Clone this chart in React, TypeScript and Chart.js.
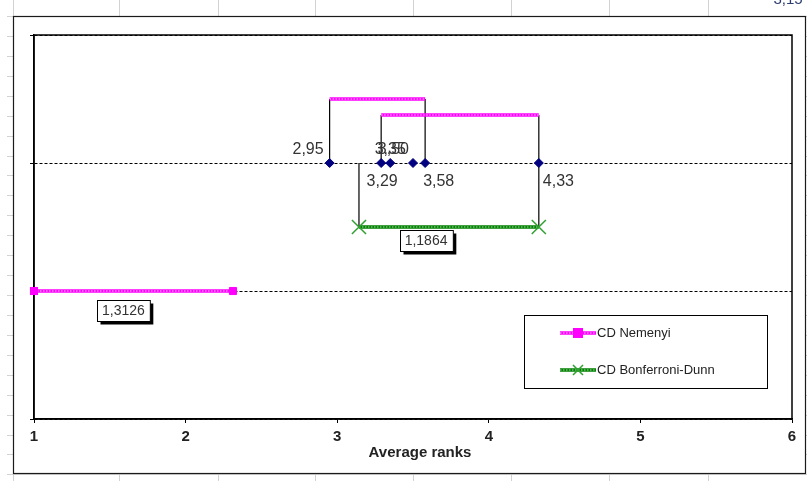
import React, { useEffect, useRef } from 'react';
import { Chart, registerables } from 'chart.js';

Chart.register(...registerables);

// ---------- data ----------
const rankValues = [2.95, 3.29, 3.35, 3.5, 3.58, 4.33];
const rankLevel = 2;
const nemenyiCD = 1.3126;
const bonferroniCD = 1.1864;
const nemenyiGroupStarts = [2.95, 3.29];
const nemenyiGroupEnds = [3.58, 4.33];
const nemenyiGroupLevels = [2.5, 2.375];
const nemenyiBarLevel = 1;
const bonferroniBarLevel = 1.5;
const bonferroniEnd = 4.33;
const xTickValues = [1, 2, 3, 4, 5, 6];
const yMin = 0;
const yMax = 3;
const cdLabelTexts = ['1,3126', '1,1864'];
const cdLabelX = [1.59, 3.586];
const cdLabelY = [nemenyiBarLevel, bonferroniBarLevel];
const legendLabels = ['CD Nemenyi', 'CD Bonferroni-Dunn'];
const axisTitle = 'Average ranks';
const strayLabel = '3,15';

// ---------- placement / style ----------
const rankLabelPlacement = [
  { dx: -6, dy: -13.5, align: 'right' },
  { dx: 1, dy: 18.5, align: 'center' },
  { dx: 0, dy: -13.5, align: 'center' },
  { dx: -4, dy: -13.5, align: 'right' },
  { dx: -2, dy: 18.5, align: 'left' },
  { dx: 4, dy: 18.5, align: 'left' },
];
const cdLabelDy = [19.5, 13.5];

const MAGENTA = '#ff00ff';
const MAGENTA_DOT = '#ffc4ff';
const GREEN = '#008000';
const GREEN_DOT = '#a8dca8';
const NAVY = '#000080';
const FONT = "'Liberation Sans', Arial, sans-serif";

const fmt = (v: number, d: number) => v.toFixed(d).replace('.', ',');

export default function App() {
  const ref = useRef<HTMLCanvasElement | null>(null);

  useEffect(() => {
    const canvas = ref.current;
    if (!canvas) return;

    const nemenyiBar = [
      { x: xTickValues[0], y: nemenyiBarLevel },
      { x: xTickValues[0] + nemenyiCD, y: nemenyiBarLevel },
    ];
    const bonferroniStart = bonferroniEnd - bonferroniCD;
    const bonferroniBar = [
      { x: bonferroniStart, y: bonferroniBarLevel },
      { x: bonferroniEnd, y: bonferroniBarLevel },
    ];
    const groupSegs = nemenyiGroupStarts.map((s, i) => [
      { x: s, y: nemenyiGroupLevels[i] },
      { x: nemenyiGroupEnds[i], y: nemenyiGroupLevels[i] },
    ]);
    const connectors: { x: number; y: number }[][] = [];
    nemenyiGroupStarts.forEach((s, i) => {
      connectors.push([{ x: s, y: rankLevel }, { x: s, y: nemenyiGroupLevels[i] }]);
      connectors.push([
        { x: nemenyiGroupEnds[i], y: rankLevel },
        { x: nemenyiGroupEnds[i], y: nemenyiGroupLevels[i] },
      ]);
    });
    connectors.push([{ x: bonferroniStart, y: rankLevel }, { x: bonferroniStart, y: bonferroniBarLevel }]);
    connectors.push([{ x: bonferroniEnd, y: rankLevel }, { x: bonferroniEnd, y: bonferroniBarLevel }]);

    const lineDs = (data: any[], color: string, width: number, order: number, extra: any = {}) => ({
      data,
      showLine: true,
      borderColor: color,
      backgroundColor: color,
      borderWidth: width,
      pointRadius: 0,
      order,
      clip: false,
      ...extra,
    });

    const datasets: any[] = [
      {
        data: rankValues.map((v) => ({ x: v, y: rankLevel })),
        pointStyle: 'rectRot',
        pointRadius: 4.5,
        backgroundColor: NAVY,
        borderColor: NAVY,
        borderWidth: 1,
        showLine: false,
        order: 0,
        clip: false,
      },
      ...groupSegs.map((d) => lineDs(d, MAGENTA_DOT, 1, 1, { borderDash: [1.5, 1.5] })),
      ...groupSegs.map((d) => lineDs(d, MAGENTA, 3.5, 2)),
      lineDs(nemenyiBar, MAGENTA_DOT, 1, 1, {
        borderDash: [1.5, 1.5],
        pointStyle: 'rect',
        pointRadius: 5,
        pointBackgroundColor: MAGENTA,
        pointBorderColor: MAGENTA,
        pointBorderWidth: 1,
      }),
      lineDs(nemenyiBar, MAGENTA, 3.5, 2),
      lineDs(bonferroniBar, GREEN_DOT, 1, 1, {
        borderDash: [1.5, 1.5],
        pointStyle: 'crossRot',
        pointRadius: 10,
        pointBorderColor: '#30a030',
        pointBorderWidth: 1.5,
      }),
      lineDs(bonferroniBar, GREEN, 3.5, 2),
      ...connectors.map((d) => lineDs(d, '#000', 1.2, 3)),
    ];

    const bgPlugin = {
      id: 'bg',
      beforeDraw(chart: any) {
        const ctx = chart.ctx;
        ctx.save();
        ctx.fillStyle = '#fff';
        ctx.fillRect(0, 0, chart.width, chart.height);
        // spreadsheet grid behind the chart object
        ctx.strokeStyle = '#d2d2d2';
        ctx.lineWidth = 1;
        const cols = [13, 119, 218, 315, 413, 511, 609, 708];
        cols.forEach((cx) => {
          ctx.beginPath();
          ctx.moveTo(cx + 0.5, 0);
          ctx.lineTo(cx + 0.5, chart.height);
          ctx.stroke();
        });
        for (let ry = 16; ry < chart.height; ry += 19.93) {
          ctx.beginPath();
          ctx.moveTo(7, Math.round(ry) + 0.5);
          ctx.lineTo(chart.width, Math.round(ry) + 0.5);
          ctx.stroke();
        }
        // chart object frame
        ctx.fillStyle = '#fff';
        ctx.fillRect(13, 16, 793, 457);
        ctx.strokeStyle = '#1a1a1a';
        ctx.lineWidth = 1.2;
        ctx.strokeRect(13.5, 16.5, 792, 457);
        // stray clipped label at the top
        ctx.fillStyle = '#2c3c70';
        ctx.font = `15px ${FONT}`;
        ctx.textAlign = 'center';
        ctx.textBaseline = 'alphabetic';
        ctx.fillText(strayLabel, 788, 4);
        ctx.restore();
      },
      afterDraw(chart: any) {
        const ctx = chart.ctx;
        const xs = chart.scales.x;
        const ys = chart.scales.y;
        const a = chart.chartArea;
        ctx.save();
        // plot border
        ctx.strokeStyle = '#000';
        ctx.lineWidth = 1.5;
        ctx.strokeRect(a.left, a.top, a.right - a.left, a.bottom - a.top);

        // re-draw the left-end Nemenyi marker over the border
        ctx.fillStyle = MAGENTA;
        const mx = xs.getPixelForValue(xTickValues[0]);
        const my = ys.getPixelForValue(nemenyiBarLevel);
        ctx.fillRect(mx - 4, my - 4, 8, 8);

        // rank labels
        ctx.fillStyle = '#333';
        ctx.font = `16px ${FONT}`;
        ctx.textBaseline = 'middle';
        rankValues.forEach((v, i) => {
          const p = rankLabelPlacement[i];
          ctx.textAlign = p.align;
          ctx.fillText(fmt(v, 2), xs.getPixelForValue(v) + p.dx, ys.getPixelForValue(rankLevel) + p.dy);
        });

        // CD value boxes
        ctx.font = `14px ${FONT}`;
        cdLabelTexts.forEach((t, i) => {
          const cx = xs.getPixelForValue(cdLabelX[i]);
          const cy = ys.getPixelForValue(cdLabelY[i]) + cdLabelDy[i];
          const w = ctx.measureText(t).width + 10;
          const h = 21;
          const l = Math.round(cx - w / 2) + 0.5;
          const tp = Math.round(cy - h / 2) + 0.5;
          ctx.fillStyle = '#000';
          ctx.fillRect(l + 3, tp + 3, w, h);
          ctx.fillStyle = '#fff';
          ctx.fillRect(l, tp, w, h);
          ctx.strokeStyle = '#000';
          ctx.lineWidth = 1;
          ctx.strokeRect(l, tp, w, h);
          ctx.fillStyle = '#333';
          ctx.textAlign = 'center';
          ctx.fillText(t, cx, cy + 0.5);
        });

        // legend
        ctx.fillStyle = '#fff';
        ctx.fillRect(524, 315, 243, 73);
        ctx.strokeStyle = '#000';
        ctx.lineWidth = 1;
        ctx.strokeRect(524.5, 315.5, 243, 73);
        const items = [
          { y: 333, color: MAGENTA, dot: MAGENTA_DOT, marker: 'sq' },
          { y: 370, color: GREEN, dot: GREEN_DOT, marker: 'x' },
        ];
        items.forEach((it, i) => {
          ctx.strokeStyle = it.color;
          ctx.lineWidth = 3.5;
          ctx.setLineDash([]);
          ctx.beginPath();
          ctx.moveTo(560, it.y);
          ctx.lineTo(596, it.y);
          ctx.stroke();
          ctx.strokeStyle = it.dot;
          ctx.lineWidth = 1;
          ctx.setLineDash([1.5, 1.5]);
          ctx.beginPath();
          ctx.moveTo(560, it.y);
          ctx.lineTo(596, it.y);
          ctx.stroke();
          ctx.setLineDash([]);
          if (it.marker === 'sq') {
            ctx.fillStyle = MAGENTA;
            ctx.fillRect(573, it.y - 5, 10, 10);
          } else {
            ctx.strokeStyle = '#30a030';
            ctx.lineWidth = 1.5;
            ctx.beginPath();
            ctx.moveTo(573, it.y - 5);
            ctx.lineTo(583, it.y + 5);
            ctx.moveTo(583, it.y - 5);
            ctx.lineTo(573, it.y + 5);
            ctx.stroke();
          }
          ctx.fillStyle = '#222';
          ctx.font = `13px ${FONT}`;
          ctx.textAlign = 'left';
          ctx.textBaseline = 'middle';
          ctx.fillText(legendLabels[i], 597, it.y + 0.5);
        });

        // axis title
        ctx.fillStyle = '#222';
        ctx.font = `bold 15px ${FONT}`;
        ctx.textAlign = 'center';
        ctx.textBaseline = 'middle';
        ctx.fillText(axisTitle, (a.left + a.right) / 2 + 7, 453);
        ctx.restore();
      },
    };

    const chart = new Chart(canvas, {
      type: 'scatter',
      data: { datasets },
      options: {
        animation: false,
        responsive: false,
        devicePixelRatio: 1,
        events: [],
        layout: { padding: { top: 35, right: 15, left: 0, bottom: 0 } },
        plugins: { legend: { display: false }, tooltip: { enabled: false }, title: { display: false } },
        scales: {
          x: {
            type: 'linear',
            min: xTickValues[0],
            max: xTickValues[xTickValues.length - 1],
            afterBuildTicks: (s: any) => {
              s.ticks = xTickValues.map((v) => ({ value: v }));
            },
            ticks: {
              color: '#222',
              font: { family: "'Liberation Sans Narrow', 'Liberation Sans', Arial", size: 15, weight: 'bold' },
              padding: 5,
              maxRotation: 0,
            },
            grid: { drawOnChartArea: false, drawTicks: true, tickLength: 4, color: '#000', tickWidth: 1 },
            border: { color: '#000', width: 1.5 },
            afterFit: (s: any) => {
              s.height = 62;
            },
          },
          y: {
            type: 'linear',
            min: yMin,
            max: yMax,
            ticks: { display: false, stepSize: 1 },
            grid: { color: '#000', lineWidth: 1, drawTicks: true, tickLength: 4 },
            border: { color: '#000', width: 1.5, dash: [3, 2] },
            afterFit: (s: any) => {
              s.width = 34;
            },
          },
        },
      } as any,
      plugins: [bgPlugin],
    });
    return () => chart.destroy();
  }, []);

  return (
    <div style={{ position: 'fixed', left: 0, top: 0, width: 807, height: 481, background: '#fff' }}>
      <canvas ref={ref} width={807} height={481} style={{ display: 'block', width: 807, height: 481 }} />
    </div>
  );
}
